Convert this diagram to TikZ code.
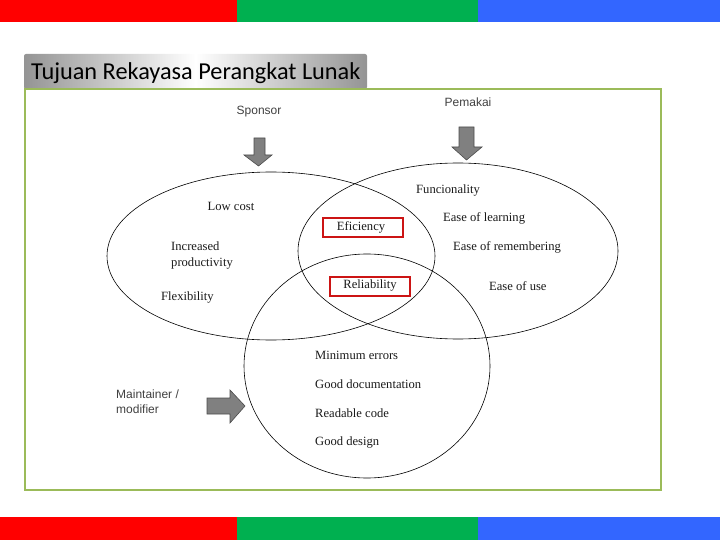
\documentclass[tikz,border=0pt]{standalone}
\usepackage{fontspec}
\setmainfont{Liberation Serif}
\newfontfamily\arialf{Liberation Sans}
\newfontfamily\calf{Carlito}
\usetikzlibrary{shapes.geometric}
\definecolor{barred}{HTML}{FF0000}
\definecolor{bargreen}{HTML}{00B050}
\definecolor{barblue}{HTML}{3366FF}
\definecolor{framegreen}{HTML}{9BBB59}
\definecolor{boxred}{HTML}{CC1414}
\definecolor{arrowgray}{HTML}{808080}
\tikzset{
  vennell/.style={draw, ellipse, line width=0.6pt, inner sep=0pt},
  serlab/.style={font=\fontsize{12.6}{14}\selectfont, inner sep=0pt, text=black!90},
  sanlab/.style={font=\arialf\fontsize{12}{14}\selectfont, inner sep=0pt, text=black!75, align=left},
  redbox/.style={draw=boxred, line width=2.4pt, inner sep=0pt},
  blockarrow/.style={fill=arrowgray, draw=black!70, line width=0.6pt}
}
\begin{document}
\begin{tikzpicture}[x=1pt,y=-1pt]
\useasboundingbox (0,0) rectangle (720,540);
% colour bars
\fill[barred] (0,0) rectangle (237,22);
\fill[bargreen] (237,0) rectangle (478,22);
\fill[barblue] (478,0) rectangle (720,22);
\fill[barred] (0,517) rectangle (237,540);
\fill[bargreen] (237,517) rectangle (478,540);
\fill[barblue] (478,517) rectangle (720,540);
% title
\shade[left color=black!42, right color=black!42, middle color=white, rounded corners=2pt] (24,54) rectangle (367,89);
\node[font=\calf\fontsize{24.3}{28}\selectfont, anchor=west, inner sep=0pt] (title) at (31,73) {Tujuan Rekayasa Perangkat Lunak};
% frame
\draw[framegreen, line width=2.6pt] (25,89) rectangle (661,490);
% ellipses
\node[vennell, minimum width=328pt, minimum height=168pt] (sp) at (271,256) {};
\node[vennell, minimum width=320pt, minimum height=176pt] (pm) at (458,251) {};
\node[vennell, minimum width=246pt, minimum height=224pt] (mt) at (367,366) {};
% block arrows
\draw[blockarrow] (254,138) -- (265,138) -- (265,155) -- (272,155) -- (258.5,166) -- (244,155) -- (254,155) -- cycle;
\draw[blockarrow] (459,127) -- (474,127) -- (474,147) -- (482,147) -- (466.5,160) -- (452,147) -- (459,147) -- cycle;
\draw[blockarrow] (207,398) -- (230,398) -- (230,390) -- (245,406) -- (230,423) -- (230,414) -- (207,414) -- cycle;
% stakeholder labels
\node[sanlab] (sponsor) at (259,112) {Sponsor};
\node[sanlab] (pemakai) at (468,102) {Pemakai};
\node[sanlab, anchor=west, font=\arialf\fontsize{12}{15}\selectfont] (maint) at (116,402) {Maintainer /\\modifier};
% sponsor goals
\node[serlab] (lowcost) at (231,206) {Low cost};
\node[serlab, anchor=west, align=left, font=\fontsize{12.6}{16}\selectfont] (incprod) at (171,255) {Increased\\productivity};
\node[serlab, anchor=west] (flex) at (161,297) {Flexibility};
% shared goals
\node[serlab] (eff) at (361,227) {Eficiency};
\node[redbox, minimum width=80pt, minimum height=19pt] (effbox) at (363,227.5) {};
\node[serlab] (rel) at (370,285) {Reliability};
\node[redbox, minimum width=80pt, minimum height=19pt] (relbox) at (370,286.5) {};
% user goals
\node[serlab, anchor=west] (func) at (416,190) {Funcionality};
\node[serlab, anchor=west] (easel) at (443,218) {Ease of learning};
\node[serlab, anchor=west] (easer) at (453,247) {Ease of remembering};
\node[serlab, anchor=west] (easeu) at (489,286) {Ease of use};
% maintainer goals
\node[serlab, anchor=west] (minerr) at (315,355) {Minimum errors};
\node[serlab, anchor=west] (gdoc) at (315,384) {Good documentation};
\node[serlab, anchor=west] (rcode) at (315,413) {Readable code};
\node[serlab, anchor=west] (gdes) at (315,442) {Good design};
\end{tikzpicture}
\end{document}
